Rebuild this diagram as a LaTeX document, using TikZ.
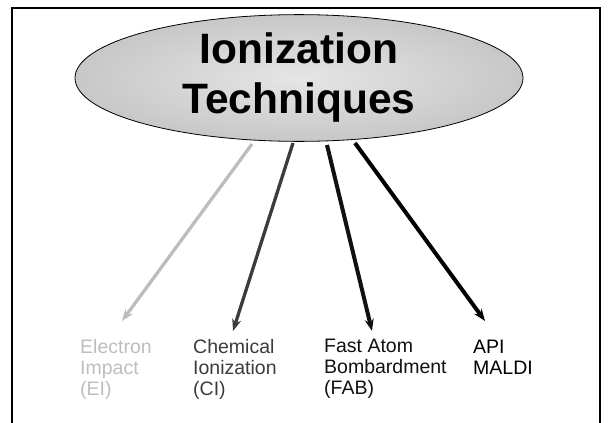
\documentclass[tikz,border=0pt]{standalone}
\usepackage{fontspec}
\setmainfont{Liberation Sans}
\usetikzlibrary{arrows.meta,shapes.geometric}
\definecolor{eigray}{HTML}{BDBDBD}
\definecolor{cigray}{HTML}{3C3C3C}
\definecolor{fabgray}{HTML}{111111}
\pgfdeclareradialshading{titleshade}{\pgfpoint{0bp}{0bp}}{%
  color(0bp)=(black!10); color(36bp)=(black!27); color(50bp)=(black!30)}
\tikzset{
  techarrow/.style={line width=#1, -{Stealth[length=12pt,width=9pt,inset=4pt]}},
  techlabel/.style={anchor=north west, inner sep=0pt, align=left,
    font=\fontsize{19.5}{21}\selectfont}
}
\begin{document}
\begin{tikzpicture}[x=1pt,y=-1pt]
  \useasboundingbox (0,0) rectangle (608,423);
  % frame
  \draw[line width=2pt] (12,430) |- (600,8) -- (600,430);

  \node[ellipse, draw, line width=0.8pt, inner sep=0pt,
    minimum width=448pt, minimum height=98pt, shading=titleshade,
    align=center, font=\fontsize{42.5}{50}\selectfont\bfseries] (title) at (299,78) {Ionization\\Techniques};

  \begin{scope}[every node/.style={techlabel}]
    \node[text=eigray] (ei) at (80,339) {Electron\\Impact\\(EI)};
    \node[text=cigray] (ci) at (193,339) {Chemical\\Ionization\\(CI)};
    \node[text=fabgray] (fab) at (324,339) {Fast Atom\\Bombardment\\(FAB)};
    \node[text=black] (api) at (473,340) {API\\MALDI};
  \end{scope}

  \coordinate (ei-top) at (252,144);
  \coordinate (ei-tip) at (122,321);
  \coordinate (ci-top) at (293,143);
  \coordinate (ci-tip) at (233,331);
  \coordinate (fab-top) at (327,145);
  \coordinate (fab-tip) at (372,331);
  \coordinate (api-top) at (355,143);
  \coordinate (api-tip) at (485,321);

  \begin{scope}
    \draw[eigray, techarrow=3.3pt] (ei-top) -- (ei-tip);
    \draw[cigray, techarrow=3.3pt] (ci-top) -- (ci-tip);
    \draw[fabgray, techarrow=4pt] (fab-top) -- (fab-tip);
    \draw[black, techarrow=4pt] (api-top) -- (api-tip);
  \end{scope}
\end{tikzpicture}
\end{document}
